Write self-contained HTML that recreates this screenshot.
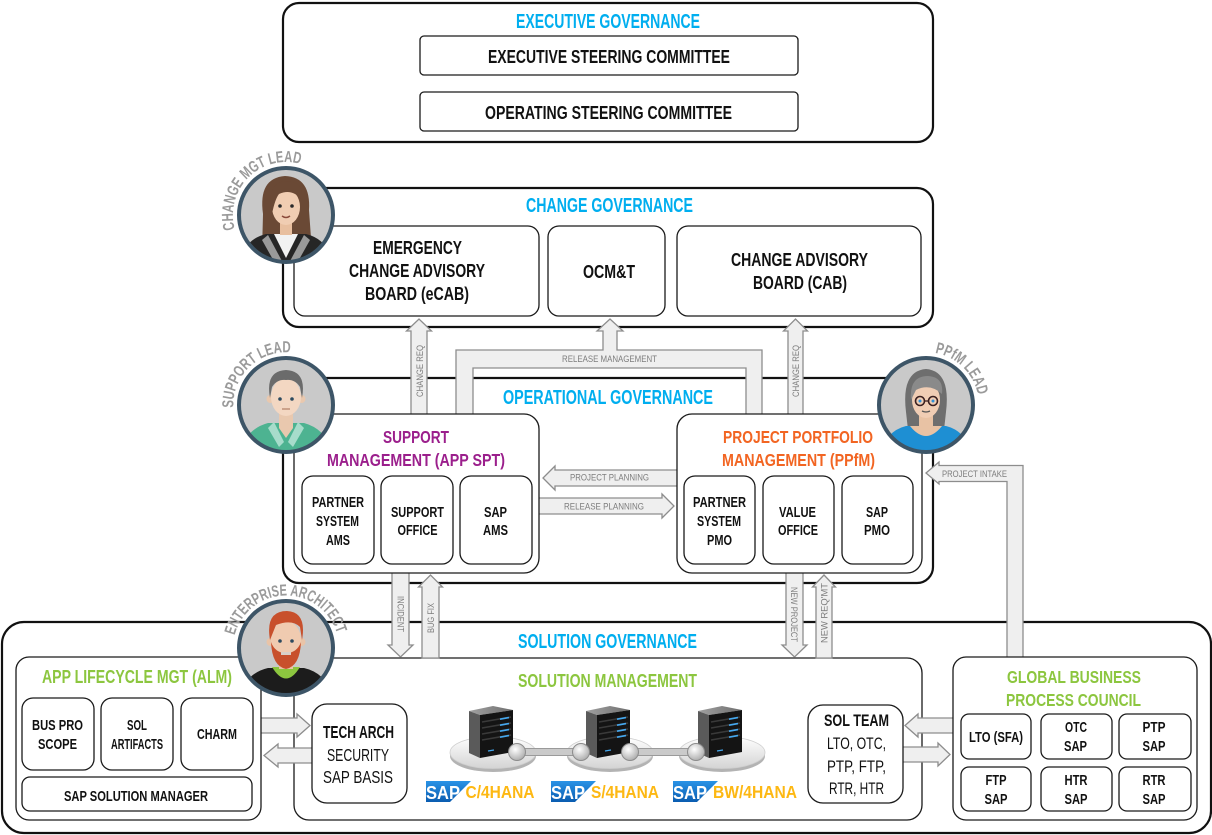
<!DOCTYPE html>
<html><head><meta charset="utf-8"><style>
html,body{margin:0;padding:0;background:#fff;}
svg{display:block;}
text{font-family:"Liberation Sans Narrow","Liberation Sans",sans-serif;font-weight:700;text-anchor:middle;}
.r{font-weight:400;}
.bl{fill:#00aeef;}
.pu{fill:#9b1f8c;}
.or{fill:#f26522;}
.gr{fill:#8cc63f;}
.ye{fill:#fdb813;text-anchor:start;}
.k{fill:#111;}
.ar{fill:#7d7d7d;font-weight:400;}
.cv{fill:#9a9a9a;}
.ob{fill:#fff;stroke:#111;stroke-width:2.2;}
.ib{fill:#fff;stroke:#1a1a1a;stroke-width:1.3;}
.aw{fill:#efefef;stroke:#8d8d8d;stroke-width:1.3;stroke-linejoin:miter;}
</style></head><body>
<svg width="1212" height="835" viewBox="0 0 1212 835" xmlns="http://www.w3.org/2000/svg">
<defs>
<linearGradient id="sapg" x1="0" y1="0" x2="0" y2="1"><stop offset="0" stop-color="#2a93e6"/><stop offset="1" stop-color="#0a5cb0"/></linearGradient>
<linearGradient id="plat" x1="0" y1="0" x2="0" y2="1"><stop offset="0" stop-color="#ffffff"/><stop offset="1" stop-color="#d4d4d4"/></linearGradient>
<radialGradient id="node" cx="0.4" cy="0.35" r="0.7"><stop offset="0" stop-color="#ffffff"/><stop offset="1" stop-color="#a9a9a9"/></radialGradient>
<linearGradient id="topf" x1="0" y1="0" x2="1" y2="0"><stop offset="0" stop-color="#a0a0a0"/><stop offset="1" stop-color="#6f6f6f"/></linearGradient>
<g id="srv">
 <ellipse cx="493" cy="756" rx="43" ry="16" fill="#b3b3b3"/>
 <ellipse cx="493" cy="752.5" rx="43" ry="16" fill="url(#plat)" stroke="#cfcfcf" stroke-width="0.8"/>
 <polygon points="469,711 493,706 513,710 480,715" fill="url(#topf)"/>
 <polygon points="469,711 480,715 480,758 469,753" fill="#5a5a5a"/>
 <polygon points="480,715 513,710 513,752 480,758" fill="#141414"/>
 <g stroke-width="1.6">
  <line x1="482" y1="722" x2="511" y2="717" stroke="#3a3a3a"/>
  <line x1="482" y1="728" x2="511" y2="723" stroke="#3a3a3a"/>
  <line x1="482" y1="734" x2="511" y2="729" stroke="#3a3a3a"/>
  <line x1="482" y1="740" x2="511" y2="735" stroke="#3a3a3a"/>
  <line x1="500" y1="719.2" x2="509" y2="717.6" stroke="#45a8ef"/>
  <line x1="500" y1="725.2" x2="509" y2="723.6" stroke="#45a8ef"/>
  <line x1="500" y1="731.2" x2="509" y2="729.6" stroke="#45a8ef"/>
  <line x1="500" y1="737.2" x2="509" y2="735.6" stroke="#45a8ef"/>
  <line x1="488" y1="751" x2="494" y2="750" stroke="#45a8ef" stroke-width="1.2"/>
 </g>
</g>
<clipPath id="ca"><circle cx="286" cy="215" r="46"/></clipPath>
<clipPath id="cb"><circle cx="286" cy="405" r="46"/></clipPath>
<clipPath id="cc"><circle cx="926" cy="405" r="46"/></clipPath>
<clipPath id="cd"><circle cx="286" cy="648" r="46"/></clipPath>
<path id="pa" d="M248.52 252.48 A53 53 0 0 1 323.48 177.52"/>
<path id="pb" d="M247.88 441.82 A53 53 0 0 1 324.12 368.18"/>
<path id="pc" d="M888.2 367.85 A53 53 0 0 1 963.8 442.15"/>
<path id="pd" d="M233.01 648.92 A53 53 0 0 1 338.99 647.08"/>
</defs>

<!-- Outer boxes -->
<rect class="ob" x="283" y="3" width="650" height="139" rx="16"/>
<rect class="ib" x="420" y="36" width="378" height="39" rx="4"/>
<rect class="ib" x="420" y="92" width="378" height="39" rx="4"/>

<rect class="ob" x="283" y="188" width="650" height="139" rx="16"/>
<rect class="ib" x="294" y="226" width="245" height="90" rx="11"/>
<rect class="ib" x="548" y="226" width="117" height="90" rx="11"/>
<rect class="ib" x="677" y="226" width="244" height="90" rx="11"/>

<rect class="ob" x="283" y="378" width="650" height="205" rx="16"/>

<rect class="ob" x="2" y="622" width="1209" height="211" rx="22"/>
<rect class="ib" x="294" y="658" width="628" height="162" rx="15"/>

<!-- Arrows -->
<polygon class="aw" points="411,420 411,331 406.5,331 419,319 431.5,331 427,331 427,420"/>
<polygon class="aw" points="456,420 456,350 603,350 603,331 597,331 610,319 623,331 617,331 617,350 762,350 762,420 746,420 746,368 473,368 473,420"/>
<polygon class="aw" points="788,420 788,331 783.5,331 795.5,319 807.5,331 803,331 803,420"/>
<polygon class="aw" points="680,470 555,470 555,466 543,478 555,490 555,486 680,486"/>
<polygon class="aw" points="536,498 662,498 662,494 674,506 662,518 662,514 536,514"/>
<polygon class="aw" points="926,473 939,462 939,465.5 1023,465.5 1023,662 1007,662 1007,481.5 939,481.5 939,484"/>
<polygon class="aw" points="392,570 409,570 409,645 413,645 400.5,657 388,645 392,645"/>
<polygon class="aw" points="422,658 422,587 418.5,587 430.5,575 442.5,587 439,587 439,658"/>
<polygon class="aw" points="786,570 803,570 803,645 807,645 794.5,657 782,645 786,645"/>
<polygon class="aw" points="816,658 816,587 812.5,587 824,575 835.5,587 832,587 832,658"/>
<polygon class="aw" points="258,718 297,718 297,714 310,725.5 297,737 297,733 258,733"/>
<polygon class="aw" points="314,748 278,748 278,744 264,755.5 278,767 278,763 314,763"/>
<polygon class="aw" points="955,718 918,718 918,714 905,725.5 918,737 918,733 955,733"/>
<polygon class="aw" points="901,747 938,747 938,743 950,754.5 938,766 938,762 901,762"/>

<!-- Operational inner -->
<rect class="ib" x="294" y="414" width="245" height="159" rx="15" stroke-width="1.5"/>
<rect class="ib" x="302" y="476" width="72" height="88" rx="11"/>
<rect class="ib" x="381" y="476" width="72" height="88" rx="11"/>
<rect class="ib" x="460" y="476" width="72" height="88" rx="11"/>
<rect class="ib" x="677" y="414" width="245" height="159" rx="15" stroke-width="1.5"/>
<rect class="ib" x="684" y="476" width="71" height="88" rx="11"/>
<rect class="ib" x="763" y="476" width="71" height="88" rx="11"/>
<rect class="ib" x="842" y="476" width="71" height="88" rx="11"/>

<!-- Solution inner -->
<rect class="ib" x="16" y="657" width="245" height="163" rx="13"/>
<rect class="ib" x="22" y="698" width="72" height="72" rx="11"/>
<rect class="ib" x="101" y="698" width="72" height="72" rx="11"/>
<rect class="ib" x="181" y="698" width="72" height="72" rx="11"/>
<rect class="ib" x="22" y="777" width="230" height="34" rx="8"/>
<rect class="ib" x="312" y="704" width="95" height="99" rx="15"/>
<rect class="ib" x="808" y="705" width="95" height="98" rx="15"/>
<rect class="ib" x="953" y="657" width="244" height="163" rx="13"/>
<rect class="ib" x="961" y="714" width="70" height="45" rx="8"/>
<rect class="ib" x="1041" y="714" width="71" height="45" rx="8"/>
<rect class="ib" x="1119" y="714" width="72" height="45" rx="8"/>
<rect class="ib" x="961" y="767" width="70" height="44" rx="8"/>
<rect class="ib" x="1041" y="767" width="71" height="44" rx="8"/>
<rect class="ib" x="1119" y="767" width="72" height="44" rx="8"/>

<!-- Servers -->
<use href="#srv"/>
<use href="#srv" transform="translate(117,0)"/>
<use href="#srv" transform="translate(229,0)"/>
<rect x="517" y="748.5" width="64" height="7" fill="#cacaca" stroke="#9a9a9a" stroke-width="1"/>
<rect x="630" y="748.5" width="66" height="7" fill="#cacaca" stroke="#9a9a9a" stroke-width="1"/>
<circle cx="517" cy="752" r="8.5" fill="url(#node)" stroke="#8c8c8c" stroke-width="1"/>
<circle cx="581" cy="752" r="8.5" fill="url(#node)" stroke="#8c8c8c" stroke-width="1"/>
<circle cx="630" cy="752" r="8.5" fill="url(#node)" stroke="#8c8c8c" stroke-width="1"/>
<circle cx="696" cy="752" r="8.5" fill="url(#node)" stroke="#8c8c8c" stroke-width="1"/>

<!-- SAP logos -->
<polygon points="426,781 471,781 450,802 426,802" fill="url(#sapg)"/>
<text x="443" y="799" font-size="18" fill="#fff" textLength="34" lengthAdjust="spacingAndGlyphs">SAP</text>
<polygon points="551,781 596,781 575,802 551,802" fill="url(#sapg)"/>
<text x="568" y="799" font-size="18" fill="#fff" textLength="34" lengthAdjust="spacingAndGlyphs">SAP</text>
<polygon points="673,781 718,781 697,802 673,802" fill="url(#sapg)"/>
<text x="690" y="799" font-size="18" fill="#fff" textLength="34" lengthAdjust="spacingAndGlyphs">SAP</text>
<text class="ye" x="465.5" y="798" font-size="17.5" textLength="69" lengthAdjust="spacingAndGlyphs">C/4HANA</text>
<text class="ye" x="591" y="798" font-size="17.5" textLength="68" lengthAdjust="spacingAndGlyphs">S/4HANA</text>
<text class="ye" x="713" y="798" font-size="17.5" textLength="84" lengthAdjust="spacingAndGlyphs">BW/4HANA</text>

<!-- Avatar A: change mgt lead -->
<g clip-path="url(#ca)">
 <rect x="238" y="167" width="96" height="96" fill="#c9c9c9"/>
 <path d="M263 214 Q258 178 285 176 Q311 177 309 210 L312 252 L262 252 Z" fill="#6a4935"/>
 <path d="M240 266 Q242 240 266 234 L306 234 Q330 240 332 266 Z" fill="#262626"/>
 <path d="M268 235 L283 263 L276 265 L262 240 Z" fill="#9a9a9a"/>
 <path d="M304 235 L289 263 L296 265 L310 240 Z" fill="#9a9a9a"/>
 <path d="M274 234 L286 258 L298 234 Z" fill="#f2f2f2"/>
 <rect x="280" y="218" width="12" height="17" fill="#e8bf9f"/>
 <ellipse cx="286" cy="207" rx="14" ry="18" fill="#f0cdb2"/>
 <path d="M271 206 Q268 182 287 181 Q304 182 302 200 Q292 188 279 194 Q275 199 272 214 Z" fill="#6a4935"/>
 <circle cx="280" cy="206" r="1.8" fill="#2a2a2a"/><circle cx="292" cy="206" r="1.8" fill="#2a2a2a"/>
 <path d="M282 216 Q286 219 290 216" stroke="#8a4a3a" stroke-width="1.5" fill="none"/>
</g>
<circle cx="286" cy="215" r="47" fill="none" stroke="#3d5567" stroke-width="4"/>

<!-- Avatar B: support lead -->
<g clip-path="url(#cb)">
 <rect x="238" y="357" width="96" height="96" fill="#c9c9c9"/>
 <path d="M238 462 Q242 430 268 423 L304 423 Q330 430 334 462Z" fill="#4db391"/>
 <path d="M279 412 L293 412 L293 428 L286 438 L279 428Z" fill="#e9c8ae"/>
 <path d="M274 422 L284 442 L279 447 L268 428Z" fill="#a7dccb"/>
 <path d="M298 422 L288 442 L293 447 L304 428Z" fill="#a7dccb"/>
 <circle cx="270.5" cy="399" r="4" fill="#e9c8ae"/><circle cx="301.5" cy="399" r="4" fill="#e9c8ae"/>
 <ellipse cx="286" cy="397" rx="15" ry="19" fill="#f3d7c2"/>
 <path d="M270 398 Q265 371 286 370 Q307 371 302 398 L300 387 Q295 379 286 380 Q277 379 272 387Z" fill="#6b6b6b"/>
 <circle cx="280" cy="399" r="1.8" fill="#2d4a5e"/><circle cx="292" cy="399" r="1.8" fill="#2d4a5e"/>
 <path d="M282 409 L290 409" stroke="#b5836a" stroke-width="1.3"/>
</g>
<circle cx="286" cy="405" r="47" fill="none" stroke="#3d5567" stroke-width="4"/>

<!-- Avatar C: PPfM lead -->
<g clip-path="url(#cc)">
 <rect x="878" y="357" width="96" height="96" fill="#c9c9c9"/>
 <path d="M906 412 Q901 371 926 369 Q951 371 946 412 L944 430 L908 430Z" fill="#6e6e6e"/>
 <path d="M878 464 Q882 432 906 426 L946 426 Q970 432 974 464Z" fill="#1e8fd3"/>
 <path d="M919 414 L933 414 L933 430 Q926 436 919 430Z" fill="#e8c2a4"/>
 <path d="M910 426 Q926 446 942 426Z" fill="#e8c2a4"/>
 <ellipse cx="926" cy="400" rx="14" ry="18" fill="#f0cdb4"/>
 <path d="M911 400 Q909 376 928 376 Q944 377 942 394 Q930 383 916 390 Z" fill="#8a8a8a"/>
 <circle cx="920" cy="401" r="4.5" fill="none" stroke="#3a2020" stroke-width="1.6"/>
 <circle cx="933" cy="401" r="4.5" fill="none" stroke="#3a2020" stroke-width="1.6"/>
 <line x1="924.5" y1="401" x2="928.5" y2="401" stroke="#3a2020" stroke-width="1.3"/>
 <circle cx="920" cy="401" r="1.5" fill="#2b8fd6"/><circle cx="933" cy="401" r="1.5" fill="#2b8fd6"/>
 <path d="M922 411 Q926 413 930 411" stroke="#555" stroke-width="1.3" fill="none"/>
</g>
<circle cx="926" cy="405" r="47" fill="none" stroke="#3d5567" stroke-width="4"/>

<!-- Avatar D: enterprise architect -->
<g clip-path="url(#cd)">
 <rect x="238" y="600" width="96" height="96" fill="#c9c9c9"/>
 <path d="M238 705 Q242 674 268 668 L304 668 Q330 674 334 705Z" fill="#1c1c1c"/>
 <path d="M272 667 Q286 690 300 667Z" fill="#8cc63f"/>
 <rect x="279" y="655" width="14" height="14" fill="#e9c4a8"/>
 <circle cx="270.5" cy="642" r="4" fill="#e9c4a8"/><circle cx="301.5" cy="642" r="4" fill="#e9c4a8"/>
 <ellipse cx="286" cy="640" rx="15" ry="19" fill="#f0cbb0"/>
 <path d="M270 640 Q265 611 287 611 Q307 612 302 640 L300 627 Q292 619 276 625Z" fill="#c8502c"/>
 <path d="M271 642 Q272 666 286 669 Q300 666 301 642 Q297 653 286 653 Q275 653 271 642Z" fill="#c8502c"/>
 <rect x="281" y="652" width="10" height="3" fill="#d9d0c8"/>
 <circle cx="280" cy="641" r="1.8" fill="#2d4a5e"/><circle cx="292" cy="641" r="1.8" fill="#2d4a5e"/>
</g>
<circle cx="286" cy="648" r="47" fill="none" stroke="#3d5567" stroke-width="4"/>

<!-- Curved labels -->
<text class="cv" font-size="16"><textPath href="#pa" startOffset="50%" textLength="112" lengthAdjust="spacingAndGlyphs">CHANGE MGT LEAD</textPath></text>
<text class="cv" font-size="16"><textPath href="#pb" startOffset="50%" textLength="90" lengthAdjust="spacingAndGlyphs">SUPPORT LEAD</textPath></text>
<text class="cv" font-size="16"><textPath href="#pc" startOffset="50%" textLength="64" lengthAdjust="spacingAndGlyphs">PPfM LEAD</textPath></text>
<text class="cv" font-size="16"><textPath href="#pd" startOffset="50%" textLength="138" lengthAdjust="spacingAndGlyphs">ENTERPRISE ARCHITECT</textPath></text>

<!-- Executive -->
<text class="bl" x="608" y="28" font-size="20" textLength="184" lengthAdjust="spacingAndGlyphs">EXECUTIVE GOVERNANCE</text>
<text class="k" x="609" y="63" font-size="18" textLength="242" lengthAdjust="spacingAndGlyphs">EXECUTIVE STEERING COMMITTEE</text>
<text class="k" x="608.5" y="119" font-size="18" textLength="247" lengthAdjust="spacingAndGlyphs">OPERATING STEERING COMMITTEE</text>

<!-- Change -->
<text class="bl" x="609.5" y="212" font-size="20" textLength="167" lengthAdjust="spacingAndGlyphs">CHANGE GOVERNANCE</text>
<text class="k" x="417.5" y="254" font-size="18" textLength="89" lengthAdjust="spacingAndGlyphs">EMERGENCY</text>
<text class="k" x="417" y="277" font-size="18" textLength="136" lengthAdjust="spacingAndGlyphs">CHANGE ADVISORY</text>
<text class="k" x="417" y="300" font-size="18" textLength="104" lengthAdjust="spacingAndGlyphs">BOARD (eCAB)</text>
<text class="k" x="609" y="278" font-size="18" textLength="52" lengthAdjust="spacingAndGlyphs">OCM&amp;T</text>
<text class="k" x="799.5" y="266" font-size="18" textLength="137" lengthAdjust="spacingAndGlyphs">CHANGE ADVISORY</text>
<text class="k" x="800" y="289" font-size="18" textLength="94" lengthAdjust="spacingAndGlyphs">BOARD (CAB)</text>

<!-- Arrow labels -->
<text class="ar" x="609.5" y="362" font-size="9" textLength="95" lengthAdjust="spacingAndGlyphs">RELEASE MANAGEMENT</text>
<text class="ar" transform="translate(422.8,371) rotate(-90)" font-size="9" textLength="52" lengthAdjust="spacingAndGlyphs">CHANGE REQ</text>
<text class="ar" transform="translate(798.8,371) rotate(-90)" font-size="9" textLength="52" lengthAdjust="spacingAndGlyphs">CHANGE REQ</text>
<text class="ar" x="609.5" y="480.5" font-size="9" textLength="79" lengthAdjust="spacingAndGlyphs">PROJECT PLANNING</text>
<text class="ar" x="604" y="509.5" font-size="9" textLength="80" lengthAdjust="spacingAndGlyphs">RELEASE PLANNING</text>
<text class="ar" x="974.5" y="477" font-size="9" textLength="65" lengthAdjust="spacingAndGlyphs">PROJECT INTAKE</text>
<text class="ar" transform="translate(397.7,614) rotate(90)" font-size="9" textLength="36" lengthAdjust="spacingAndGlyphs">INCIDENT</text>
<text class="ar" transform="translate(433.8,618) rotate(-90)" font-size="9" textLength="30" lengthAdjust="spacingAndGlyphs">BUG FIX</text>
<text class="ar" transform="translate(791.2,614.5) rotate(90)" font-size="9" textLength="55" lengthAdjust="spacingAndGlyphs">NEW PROJECT</text>
<text class="ar" transform="translate(827.3,613) rotate(-90)" font-size="9" textLength="60" lengthAdjust="spacingAndGlyphs">NEW REQ'MT</text>

<!-- Operational -->
<text class="bl" x="608" y="404" font-size="20" textLength="210" lengthAdjust="spacingAndGlyphs">OPERATIONAL GOVERNANCE</text>
<text class="pu" x="416" y="443" font-size="17.5" textLength="66" lengthAdjust="spacingAndGlyphs">SUPPORT</text>
<text class="pu" x="416" y="466" font-size="17.5" textLength="178" lengthAdjust="spacingAndGlyphs">MANAGEMENT (APP SPT)</text>
<text class="k" x="338" y="507" font-size="15" textLength="52" lengthAdjust="spacingAndGlyphs">PARTNER</text>
<text class="k" x="337.5" y="526" font-size="15" textLength="43" lengthAdjust="spacingAndGlyphs">SYSTEM</text>
<text class="k" x="338" y="545" font-size="15" textLength="24" lengthAdjust="spacingAndGlyphs">AMS</text>
<text class="k" x="417.5" y="517" font-size="15" textLength="53" lengthAdjust="spacingAndGlyphs">SUPPORT</text>
<text class="k" x="417.5" y="535" font-size="15" textLength="40" lengthAdjust="spacingAndGlyphs">OFFICE</text>
<text class="k" x="495.5" y="517" font-size="15" textLength="23" lengthAdjust="spacingAndGlyphs">SAP</text>
<text class="k" x="495.5" y="535" font-size="15" textLength="25" lengthAdjust="spacingAndGlyphs">AMS</text>
<text class="or" x="798" y="443" font-size="17.5" textLength="150" lengthAdjust="spacingAndGlyphs">PROJECT PORTFOLIO</text>
<text class="or" x="798.5" y="466" font-size="17.5" textLength="153" lengthAdjust="spacingAndGlyphs">MANAGEMENT (PPfM)</text>
<text class="k" x="719.5" y="507" font-size="15" textLength="53" lengthAdjust="spacingAndGlyphs">PARTNER</text>
<text class="k" x="719" y="526" font-size="15" textLength="44" lengthAdjust="spacingAndGlyphs">SYSTEM</text>
<text class="k" x="719.5" y="545" font-size="15" textLength="25" lengthAdjust="spacingAndGlyphs">PMO</text>
<text class="k" x="797.5" y="517" font-size="15" textLength="37" lengthAdjust="spacingAndGlyphs">VALUE</text>
<text class="k" x="798" y="535" font-size="15" textLength="40" lengthAdjust="spacingAndGlyphs">OFFICE</text>
<text class="k" x="877" y="517" font-size="15" textLength="22" lengthAdjust="spacingAndGlyphs">SAP</text>
<text class="k" x="877" y="535" font-size="15" textLength="26" lengthAdjust="spacingAndGlyphs">PMO</text>

<!-- Solution -->
<text class="bl" x="607.5" y="648" font-size="20" textLength="179" lengthAdjust="spacingAndGlyphs">SOLUTION GOVERNANCE</text>
<text class="gr" x="607.5" y="687" font-size="18" textLength="179" lengthAdjust="spacingAndGlyphs">SOLUTION MANAGEMENT</text>
<text class="gr" x="137" y="683" font-size="18" textLength="190" lengthAdjust="spacingAndGlyphs">APP LIFECYCLE MGT (ALM)</text>
<text class="k" x="57.5" y="730" font-size="15" textLength="51" lengthAdjust="spacingAndGlyphs">BUS PRO</text>
<text class="k" x="57.5" y="749" font-size="15" textLength="39" lengthAdjust="spacingAndGlyphs">SCOPE</text>
<text class="k" x="137" y="730" font-size="15" textLength="20" lengthAdjust="spacingAndGlyphs">SOL</text>
<text class="k" x="137" y="749" font-size="15" textLength="52" lengthAdjust="spacingAndGlyphs">ARTIFACTS</text>
<text class="k" x="217" y="739" font-size="15" textLength="40" lengthAdjust="spacingAndGlyphs">CHARM</text>
<text class="k" x="136" y="801" font-size="15" textLength="144" lengthAdjust="spacingAndGlyphs">SAP SOLUTION MANAGER</text>
<text class="k" x="358.5" y="738" font-size="17.5" textLength="71" lengthAdjust="spacingAndGlyphs">TECH ARCH</text>
<text class="k r" x="358" y="761" font-size="17.5" textLength="62" lengthAdjust="spacingAndGlyphs">SECURITY</text>
<text class="k r" x="358" y="783" font-size="17.5" textLength="70" lengthAdjust="spacingAndGlyphs">SAP BASIS</text>
<text class="k" x="856.5" y="726" font-size="16.5" textLength="65" lengthAdjust="spacingAndGlyphs">SOL TEAM</text>
<text class="k r" x="856.5" y="749" font-size="16.5" textLength="59" lengthAdjust="spacingAndGlyphs">LTO, OTC,</text>
<text class="k r" x="856.5" y="772" font-size="16.5" textLength="59" lengthAdjust="spacingAndGlyphs">PTP, FTP,</text>
<text class="k r" x="856.5" y="794" font-size="16.5" textLength="55" lengthAdjust="spacingAndGlyphs">RTR, HTR</text>
<text class="gr" x="1074" y="683" font-size="17.5" textLength="134" lengthAdjust="spacingAndGlyphs">GLOBAL BUSINESS</text>
<text class="gr" x="1073.5" y="706" font-size="17.5" textLength="135" lengthAdjust="spacingAndGlyphs">PROCESS COUNCIL</text>
<text class="k" x="996" y="742" font-size="15" textLength="54" lengthAdjust="spacingAndGlyphs">LTO (SFA)</text>
<text class="k" x="1076" y="732" font-size="15" textLength="22" lengthAdjust="spacingAndGlyphs">OTC</text>
<text class="k" x="1075.5" y="751" font-size="15" textLength="23" lengthAdjust="spacingAndGlyphs">SAP</text>
<text class="k" x="1154" y="732" font-size="15" textLength="23" lengthAdjust="spacingAndGlyphs">PTP</text>
<text class="k" x="1154" y="751" font-size="15" textLength="23" lengthAdjust="spacingAndGlyphs">SAP</text>
<text class="k" x="996" y="785" font-size="15" textLength="21" lengthAdjust="spacingAndGlyphs">FTP</text>
<text class="k" x="996" y="804" font-size="15" textLength="23" lengthAdjust="spacingAndGlyphs">SAP</text>
<text class="k" x="1076" y="785" font-size="15" textLength="23" lengthAdjust="spacingAndGlyphs">HTR</text>
<text class="k" x="1076" y="804" font-size="15" textLength="23" lengthAdjust="spacingAndGlyphs">SAP</text>
<text class="k" x="1154" y="785" font-size="15" textLength="23" lengthAdjust="spacingAndGlyphs">RTR</text>
<text class="k" x="1154" y="804" font-size="15" textLength="23" lengthAdjust="spacingAndGlyphs">SAP</text>
</svg>
</body></html>
